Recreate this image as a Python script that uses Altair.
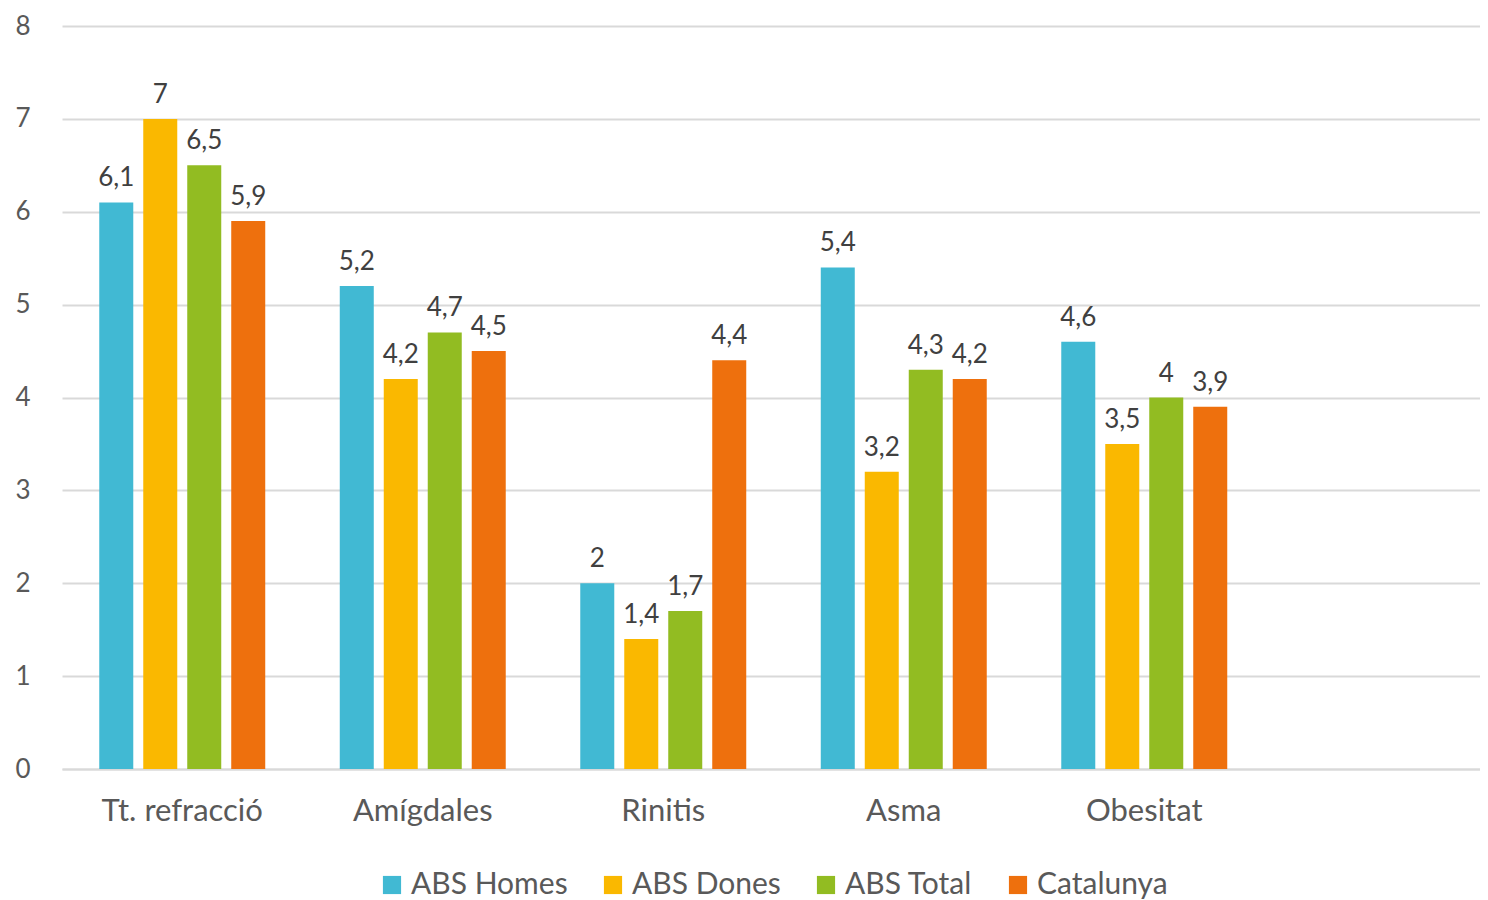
import altair as alt
import pandas as pd

categories = ["Tt. refracció", "Amígdales", "Rinitis", "Asma", "Obesitat"]
series = ["ABS Homes", "ABS Dones", "ABS Total", "Catalunya"]
colors = ["#41B9D3", "#FAB800", "#92BC22", "#EE700D"]
values = {
    "ABS Homes": [6.1, 5.2, 2.0, 5.4, 4.6],
    "ABS Dones": [7.0, 4.2, 1.4, 3.2, 3.5],
    "ABS Total": [6.5, 4.7, 1.7, 4.3, 4.0],
    "Catalunya": [5.9, 4.5, 4.4, 4.2, 3.9],
}
y_ticks = [0, 1, 2, 3, 4, 5, 6, 7, 8]

rows = []
for s in series:
    for c, v in zip(categories, values[s]):
        rows.append({"cat": c, "series": s, "value": v,
                     "label": f"{v:g}".replace(".", ",")})
df = pd.DataFrame(rows)

FONT = "Lato"

x = alt.X("cat:N", sort=categories,
          scale=alt.Scale(domain=categories, paddingInner=0, paddingOuter=0.448, align=0),
          axis=alt.Axis(title=None, labelAngle=0, labelFontSize=31, labelColor="#595959",
                        labelPadding=27, ticks=False, domainColor="#D9D9D9", domainWidth=2,
                        labelFont=FONT))
xo = alt.XOffset("series:N", sort=series,
                 scale=alt.Scale(domain=series, paddingInner=0.227, paddingOuter=0.847))
y = alt.Y("value:Q", scale=alt.Scale(domain=[0, 8]),
          axis=alt.Axis(title=None, values=y_ticks, labelFontSize=26, labelColor="#595959",
                        labelPadding=32, ticks=False, domain=False, gridColor="#D9D9D9",
                        gridWidth=2, labelFont=FONT))

bars = alt.Chart(df).mark_bar().encode(
    x=x, xOffset=xo, y=y,
    color=alt.Color("series:N", sort=series,
                    scale=alt.Scale(domain=series, range=colors),
                    legend=alt.Legend(title=None, orient="none", direction="horizontal",
                                      legendX=315, legendY=844, symbolType="square",
                                      symbolSize=330, symbolStrokeWidth=0, labelFontSize=30,
                                      labelColor="#595959", labelFont=FONT, labelOffset=4,
                                      columnPadding=30)),
)
text = alt.Chart(df).mark_text(baseline="bottom", dy=-11, fontSize=26, color="#404040",
                               font=FONT).encode(
    x=x, xOffset=xo, y=y, text="label:N")

chart = alt.layer(bars, text).properties(
    width=1418, height=743,
    autosize=alt.AutoSizeParams(type="none"),
    padding={"left": 54, "top": 18, "right": 0, "bottom": 131},
).configure_view(stroke=None)

chart.save("out.html", embed_options={"renderer": "svg", "actions": False})
